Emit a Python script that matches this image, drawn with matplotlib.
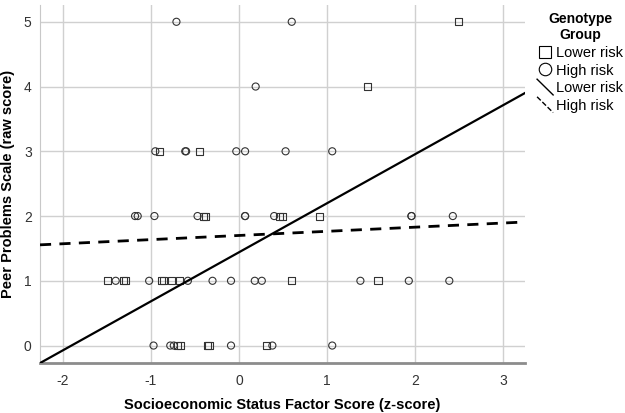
import numpy as np
import matplotlib.pyplot as plt
from matplotlib.lines import Line2D
from matplotlib.legend_handler import HandlerBase

plt.rcParams['font.family'] = ['Liberation Sans', 'DejaVu Sans']
plt.rcParams['axes.unicode_minus'] = False

# data
low_x = [-0.70, -0.66, -0.36, -0.34, 0.31,
         -1.49, -1.31, -1.29, -0.88, -0.86, -0.77, -0.68, 0.60, 1.58,
         -0.40, -0.38, 0.46, 0.50, 0.92,
         -0.90, -0.45,
         1.46,
         2.49]
low_y = [0, 0, 0, 0, 0,
         1, 1, 1, 1, 1, 1, 1, 1, 1,
         2, 2, 2, 2, 2,
         3, 3,
         4,
         5]
high_x = [-0.97, -0.78, -0.74, -0.09, 0.38, 1.06,
          -1.40, -1.02, -0.58, -0.30, -0.09, 0.18, 0.26, 1.38, 1.93, 2.39,
          -1.18, -1.15, -0.96, -0.47, 0.07, 0.07, 0.40, 1.96, 1.96, 2.43,
          -0.95, -0.61, -0.60, -0.03, 0.07, 0.53, 1.06,
          0.19,
          -0.71, 0.60]
high_y = [0, 0, 0, 0, 0, 0,
          1, 1, 1, 1, 1, 1, 1, 1, 1, 1,
          2, 2, 2, 2, 2, 2, 2, 2, 2, 2,
          3, 3, 3, 3, 3, 3, 3,
          4,
          5, 5]

# fit lines (intercept, slope)
low_fit = (1.44, 0.757)
high_fit = (1.70, 0.064)

xlim = (-2.26, 3.25)
ylim = (-0.27, 5.26)


class DiagHandler(HandlerBase):
    def create_artists(self, legend, orig, xdescent, ydescent, width, height, fontsize, trans):
        l = Line2D([0, width], [height + 2, -2], color='black',
                   linestyle=orig.get_linestyle(), linewidth=1.0)
        l.set_transform(trans)
        return [l]


fig = plt.figure(figsize=(6.25, 4.13), dpi=100)
ax = fig.add_axes([0.064, 0.121, 0.776, 0.867])

ax.scatter(low_x, low_y, marker='s', s=26, facecolors='none', edgecolors='#333333', linewidths=0.8, zorder=3)
ax.scatter(high_x, high_y, marker='o', s=26, facecolors='none', edgecolors='#333333', linewidths=0.8, zorder=3)

xx = np.array(xlim)
ax.plot(xx, low_fit[0] + low_fit[1] * xx, color='black', lw=1.6, zorder=4)
ax.plot(xx, high_fit[0] + high_fit[1] * xx, color='black', lw=2.0, ls=(0, (4, 3)), zorder=4)

ax.set_xlim(xlim)
ax.set_ylim(ylim)
ax.set_xticks([-2, -1, 0, 1, 2, 3])
ax.set_yticks([0, 1, 2, 3, 4, 5])
ax.grid(True, color='#d0d0d0', lw=1.0)
ax.set_axisbelow(True)
for s in ['top', 'right']:
    ax.spines[s].set_visible(False)
ax.spines['bottom'].set_color('#8c8c8c')
ax.spines['bottom'].set_linewidth(2)
ax.spines['left'].set_color('#c8c8c8')
ax.tick_params(axis='x', length=0, labelsize=10, labelcolor='#333333', pad=8)
ax.tick_params(axis='y', length=0, labelsize=10, labelcolor='#333333', pad=6)

ax.set_xlabel('Socioeconomic Status Factor Score (z-score)', fontweight='bold', fontsize=10.5, labelpad=7)
ax.set_ylabel('Peer Problems Scale (raw score)', fontweight='bold', fontsize=10.5, labelpad=6)

h1 = Line2D([], [], marker='s', ls='none', mfc='none', mec='black', ms=9, mew=0.8)
h2 = Line2D([], [], marker='o', ls='none', mfc='none', mec='black', ms=9, mew=0.8)
h3 = Line2D([], [], color='black', ls='-')
h4 = Line2D([], [], color='black', ls=(0, (3, 3)))
leg = fig.legend([h1, h2, h3, h4], ['Lower risk', 'High risk', 'Lower risk', 'High risk'],
                 title='Genotype\nGroup', loc='upper left', bbox_to_anchor=(0.85, 0.985),
                 frameon=False, fontsize=10.5, handlelength=1.1, handletextpad=0.2,
                 labelspacing=0.25, borderaxespad=0, alignment='center',
                 handler_map={h3: DiagHandler(), h4: DiagHandler()})
leg.get_title().set_fontweight('bold')
leg.get_title().set_fontsize(10)
leg.get_title().set_multialignment('center')

fig.savefig('out.png', dpi=100)
